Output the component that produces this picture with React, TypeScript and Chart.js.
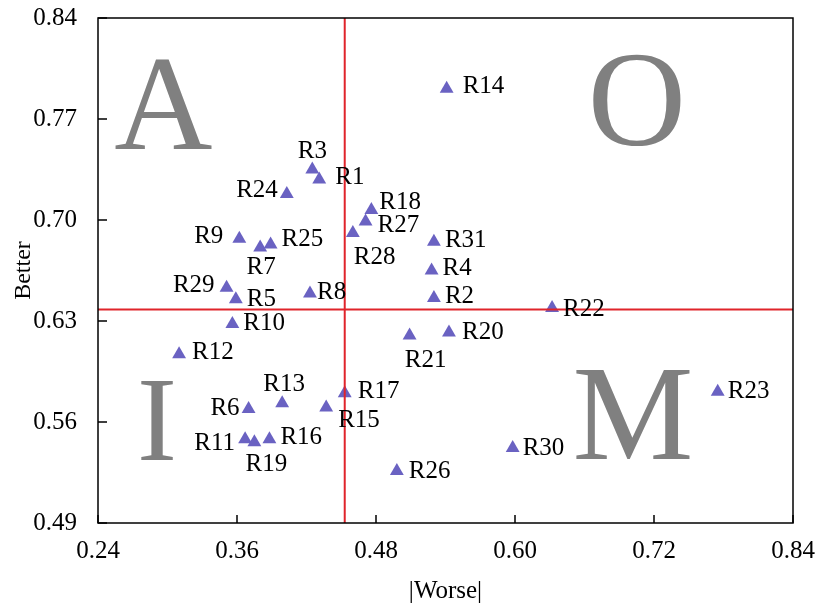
import React, { useEffect, useRef } from "react";
import { Chart, registerables } from "chart.js";

Chart.register(...registerables);

const names = [
  "R1", "R2", "R3", "R4", "R5", "R6", "R7", "R8", "R9", "R10",
  "R11", "R12", "R13", "R14", "R15", "R16", "R17", "R18", "R19", "R20",
  "R21", "R22", "R23", "R24", "R25", "R26", "R27", "R28", "R29", "R30", "R31",
];
const worse = [
  0.431, 0.530, 0.425, 0.528, 0.359, 0.370, 0.380, 0.423, 0.362, 0.356,
  0.367, 0.310, 0.399, 0.541, 0.437, 0.388, 0.453, 0.476, 0.375, 0.543,
  0.509, 0.632, 0.775, 0.403, 0.389, 0.498, 0.471, 0.460, 0.351, 0.598, 0.530,
];
const better = [
  0.728, 0.646, 0.735, 0.665, 0.645, 0.569, 0.681, 0.649, 0.687, 0.628,
  0.548, 0.607, 0.573, 0.791, 0.570, 0.548, 0.580, 0.707, 0.546, 0.622,
  0.620, 0.639, 0.581, 0.718, 0.683, 0.526, 0.699, 0.691, 0.653, 0.542, 0.685,
];
const xTickValues = [0.24, 0.36, 0.48, 0.6, 0.72, 0.84];
const yTickValues = [0.49, 0.56, 0.63, 0.7, 0.77, 0.84];
const worseMean = 0.453;
const betterMean = 0.638;
const quadrantLetters = ["A", "O", "I", "M"];
const quadrantX = [0.2965, 0.7053, 0.291, 0.7019];
const quadrantY = [0.7492, 0.752, 0.5337, 0.5344];

// label placement style: [align, dx px, dy px]
const labelStyle: [string, number, number][] = [
  ["l", 16, -2], ["l", 11, -1], ["c", 0, -18], ["l", 11, -2], ["l", 11, 0],
  ["r", -9, -1], ["c", 1, 20], ["l", 7, -1], ["r", -16, -2], ["l", 11, 0],
  ["r", -10, 4], ["l", 13, -2], ["c", 2, -19], ["l", 16, -2], ["l", 12, 13],
  ["l", 11, -2], ["l", 13, -2], ["l", 8, -7], ["c", 12, 22], ["l", 13, 0],
  ["c", 16, 25], ["l", 11, 1], ["l", 10, 0], ["r", -9, -4], ["l", 11, -5],
  ["l", 12, 0], ["l", 12, 4], ["l", 1, 24], ["r", -12, -2], ["l", 10, 0], ["l", 11, -1],
];
const letterSizes = [136, 136, 120, 136];

const FONT = '"Liberation Serif", "Times New Roman", serif';
const RED = "#E0242B";

const overlay = {
  id: "overlay",
  beforeDatasetsDraw(chart: any) {
    const { ctx, scales } = chart;
    ctx.save();
    ctx.fillStyle = "#808080";
    ctx.textAlign = "center";
    ctx.textBaseline = "alphabetic";
    quadrantLetters.forEach((t, i) => {
      ctx.font = `${letterSizes[i]}px ${FONT}`;
      ctx.fillText(t, scales.x.getPixelForValue(quadrantX[i]), scales.y.getPixelForValue(quadrantY[i]));
    });
    ctx.restore();
  },
  afterDatasetsDraw(chart: any) {
    const { ctx, chartArea, scales } = chart;
    const { left, right, top, bottom } = chartArea;
    ctx.save();
    ctx.strokeStyle = RED;
    ctx.lineWidth = 2;
    const px = scales.x.getPixelForValue(worseMean);
    const py = scales.y.getPixelForValue(betterMean);
    ctx.beginPath();
    ctx.moveTo(px, top);
    ctx.lineTo(px, bottom);
    ctx.moveTo(left, py);
    ctx.lineTo(right, py);
    ctx.stroke();
    ctx.fillStyle = "#000";
    ctx.font = `25px ${FONT}`;
    ctx.textBaseline = "middle";
    const meta = chart.getDatasetMeta(0);
    meta.data.forEach((el: any, i: number) => {
      const [al, dx, dy] = labelStyle[i];
      ctx.textAlign = al === "l" ? "left" : al === "r" ? "right" : "center";
      ctx.fillText(names[i], el.x + dx, el.y + dy);
    });
    ctx.strokeStyle = "#000";
    ctx.lineWidth = 1.5;
    ctx.strokeRect(left, top, right - left, bottom - top);
    ctx.beginPath();
    xTickValues.forEach((v) => {
      const x = scales.x.getPixelForValue(v);
      ctx.moveTo(x, bottom);
      ctx.lineTo(x, bottom - 8);
    });
    yTickValues.forEach((v) => {
      const y = scales.y.getPixelForValue(v);
      ctx.moveTo(left, y);
      ctx.lineTo(left + 9, y);
    });
    ctx.stroke();
    ctx.restore();
  },
};

export default function App() {
  const ref = useRef<HTMLCanvasElement | null>(null);
  useEffect(() => {
    document.body.style.margin = "0";
    const chart = new Chart(ref.current as HTMLCanvasElement, {
      type: "scatter",
      data: {
        datasets: [
          {
            data: worse.map((w, i) => ({ x: w, y: better[i] })),
            pointStyle: "triangle",
            pointRadius: 8,
            pointHoverRadius: 8,
            backgroundColor: "rgb(106,98,194)",
            borderWidth: 0,
          },
        ],
      },
      options: {
        animation: false,
        responsive: false,
        devicePixelRatio: 1,
        layout: { padding: { top: 18, right: 28, left: 0, bottom: 0 } },
        plugins: { legend: { display: false }, tooltip: { enabled: false } },
        scales: {
          x: {
            type: "linear",
            min: 0.24,
            max: 0.84,
            grid: { display: false },
            border: { display: false },
            afterBuildTicks: (s: any) => {
              s.ticks = xTickValues.map((v) => ({ value: v }));
            },
            afterFit: (s: any) => {
              s.height = 85;
              s.paddingLeft = 0;
              s.paddingRight = 0;
            },
            ticks: {
              color: "#000",
              font: { family: FONT, size: 25 },
              padding: 5,
              maxRotation: 0,
              callback: (v: any) => Number(v).toFixed(2),
            },
            title: {
              display: true,
              text: "|Worse|",
              color: "#000",
              font: { family: FONT, size: 25 },
              padding: { top: 0, bottom: 2 },
            },
          },
          y: {
            type: "linear",
            min: 0.49,
            max: 0.84,
            grid: { display: false },
            border: { display: false },
            afterBuildTicks: (s: any) => {
              s.ticks = yTickValues.map((v) => ({ value: v }));
            },
            afterFit: (s: any) => {
              s.width = 98;
              s.paddingTop = 0;
              s.paddingBottom = 0;
            },
            ticks: {
              color: "#000",
              font: { family: FONT, size: 25 },
              padding: 13,
              callback: (v: any) => Number(v).toFixed(2),
            },
            title: {
              display: true,
              text: "Better",
              color: "#000",
              font: { family: FONT, size: 24 },
              padding: { top: 9, bottom: 0 },
            },
          },
        },
      },
      plugins: [overlay],
    });
    return () => chart.destroy();
  }, []);
  return (
    <div style={{ width: 821, height: 608 }}>
      <canvas ref={ref} width={821} height={608} />
    </div>
  );
}
